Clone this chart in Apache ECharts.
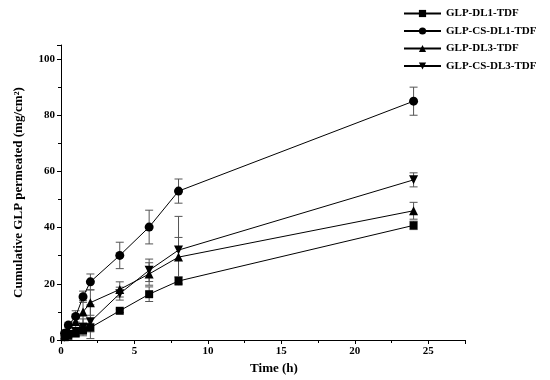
<!DOCTYPE html>
<html><head><meta charset="utf-8">
<script src="https://cdn.jsdelivr.net/npm/echarts@6/dist/echarts.min.js"></script>
<style>html,body{margin:0;padding:0;background:#fff}#c{width:550px;height:380px}</style>
</head><body><div id="c"></div>
<script>
const times = [0.25, 0.5, 1, 1.5, 2, 4, 6, 8, 24];
const names = ['GLP-DL1-TDF', 'GLP-CS-DL1-TDF', 'GLP-DL3-TDF', 'GLP-CS-DL3-TDF'];
const dl1 = [1.0, 1.5, 2.3, 3.5, 4.4, 10.4, 16.3, 21.0, 40.8];
const dl1Err = [0.3, 0.5, 0.8, 1.5, 1.5, 0.6, 2.6, 1.5, 1.5];
const csdl1 = [2.4, 5.3, 8.4, 15.4, 20.7, 30.1, 40.2, 53.0, 85.0];
const csdl1Err = [0.8, 1.0, 2.0, 2.0, 2.8, 4.7, 6.0, 4.3, 5.0];
const dl3 = [1.8, 3.5, 6.6, 10.0, 13.3, 18.0, 23.5, 29.5, 46.0];
const dl3Err = [0.8, 1.2, 2.5, 4.0, 4.5, 2.7, 4.0, 7.0, 3.0];
const csdl3 = [1.0, 2.0, 3.0, 4.5, 6.5, 16.5, 24.8, 32.0, 57.0];
const csdl3Err = [0.5, 0.8, 1.5, 3.0, 6.0, 2.3, 4.0, 12.0, 2.5];
const xTicks = [0, 5, 10, 15, 20, 25];
const yTicks = [0, 20, 40, 60, 80, 100];

const values = [dl1, csdl1, dl3, csdl3];
const errs = [dl1Err, csdl1Err, dl3Err, csdl3Err];
const symbols = ['rect', 'circle', 'triangle', 'path://M0,0 L10,0 L5,9 Z'];
const sizes = [8, 9, 9, 9];
const font = 'Liberation Serif';

const series = [];
values.forEach((v, k) => {
  series.push({
    name: names[k], type: 'line', data: times.map((t, i) => [t, v[i]]),
    symbol: symbols[k], symbolSize: sizes[k], showSymbol: true,
    lineStyle: {color: '#000', width: 1}, itemStyle: {color: '#000'},
    z: 3, animation: false
  });
  series.push({
    type: 'custom', name: 'err' + k, z: 2, animation: false,
    data: times.map((t, i) => [t, v[i] - errs[k][i], v[i] + errs[k][i]]),
    renderItem: function (params, api) {
      const lo = api.coord([api.value(0), api.value(1)]);
      const hi = api.coord([api.value(0), api.value(2)]);
      const w = 4;
      const st = {stroke: '#555', lineWidth: 1};
      return {type: 'group', children: [
        {type: 'line', shape: {x1: lo[0], y1: lo[1], x2: hi[0], y2: hi[1]}, style: st},
        {type: 'line', shape: {x1: lo[0] - w, y1: lo[1], x2: lo[0] + w, y2: lo[1]}, style: st},
        {type: 'line', shape: {x1: hi[0] - w, y1: hi[1], x2: hi[0] + w, y2: hi[1]}, style: st}
      ]};
    }
  });
});

const chart = echarts.init(document.getElementById('c'));
chart.setOption({
  backgroundColor: '#fff',
  animation: false,
  grid: {left: 61, right: 85, top: 45, bottom: 38},
  legend: {
    data: names, orient: 'vertical', left: 403, top: 8, padding: 0,
    itemWidth: 37, itemHeight: 9, itemGap: 6.5,
    textStyle: {fontFamily: font, fontWeight: 'bold', fontSize: 11, color: '#000'}
  },
  xAxis: {
    type: 'value', min: 0, max: 27.5, interval: 5,
    name: 'Time (h)', nameLocation: 'middle', nameGap: 22,
    nameTextStyle: {fontFamily: font, fontWeight: 'bold', fontSize: 13, color: '#000', padding: [0, 0, 0, 22]},
    axisLine: {show: true, lineStyle: {color: '#000', width: 1}},
    axisTick: {show: true, length: 4, lineStyle: {color: '#000'}},
    minorTick: {show: true, splitNumber: 2, length: 3, lineStyle: {color: '#000'}},
    splitLine: {show: false},
    axisLabel: {fontFamily: font, fontWeight: 'bold', fontSize: 11, color: '#000', margin: 6,
      formatter: v => xTicks.includes(v) ? String(v) : ''}
  },
  yAxis: {
    type: 'value', min: 0, max: 105, interval: 20,
    name: 'Cumulative GLP permeated (mg/cm²)', nameLocation: 'middle', nameGap: 36,
    nameTextStyle: {fontFamily: font, fontWeight: 'bold', fontSize: 13, color: '#000'},
    axisLine: {show: true, lineStyle: {color: '#000', width: 1}},
    axisTick: {show: true, length: 4, lineStyle: {color: '#000'}},
    minorTick: {show: true, splitNumber: 2, length: 3, lineStyle: {color: '#000'}},
    splitLine: {show: false},
    axisLabel: {fontFamily: font, fontWeight: 'bold', fontSize: 11, color: '#000', margin: 6,
      formatter: v => yTicks.includes(v) ? String(v) : ''}
  },
  series: series
});
</script></body></html>
